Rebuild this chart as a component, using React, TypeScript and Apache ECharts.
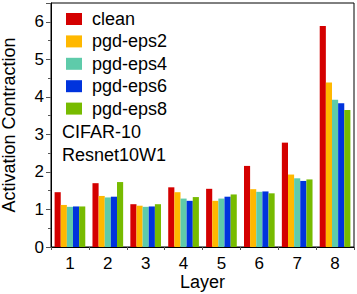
import React, { useEffect, useRef } from "react";
import * as echarts from "echarts";

const categories = ["1", "2", "3", "4", "5", "6", "7", "8"];
const seriesNames = ["clean", "pgd-eps2", "pgd-eps4", "pgd-eps6", "pgd-eps8"];
const clean = [1.46, 1.70, 1.14, 1.59, 1.55, 2.16, 2.78, 5.89];
const eps2 = [1.12, 1.36, 1.10, 1.46, 1.23, 1.54, 1.93, 4.38];
const eps4 = [1.07, 1.32, 1.07, 1.29, 1.29, 1.47, 1.83, 3.92];
const eps6 = [1.08, 1.34, 1.08, 1.23, 1.34, 1.48, 1.76, 3.83];
const eps8 = [1.08, 1.73, 1.14, 1.33, 1.40, 1.43, 1.80, 3.65];
const colors = ["#D40000", "#FFB800", "#5ECBAA", "#0033DD", "#77BB00"];
const annotations = ["CIFAR-10", "Resnet10W1"];

const FONT = "'Liberation Sans', Arial, sans-serif";

export default function App() {
  const ref = useRef<HTMLDivElement>(null);
  useEffect(() => {
    document.body.style.margin = "0";
    const chart = echarts.init(ref.current!, null, { renderer: "svg" });
    const values = [clean, eps2, eps4, eps6, eps8];
    chart.setOption({
      animation: false,
      textStyle: { fontFamily: FONT },
      grid: {
        left: 51,
        right: 3,
        top: 3,
        bottom: 47,
        show: true,
        borderColor: "#000",
        borderWidth: 1,
        containLabel: false,
        outerBoundsMode: "none",
      },
      legend: {
        orient: "vertical",
        left: 61,
        top: 5,
        itemWidth: 16,
        itemHeight: 12,
        itemGap: 4.4,
        icon: "rect",
        data: seriesNames,
        textStyle: {
          fontFamily: FONT,
          fontSize: 18,
          color: "#000",
          lineHeight: 18,
          padding: [0, 0, 0, 5],
        },
      },
      graphic: annotations.map((t, i) => ({
        type: "text",
        x: 62,
        y: 132 + i * 23,
        style: {
          text: t,
          font: `18px ${FONT}`,
          fill: "#000",
          verticalAlign: "middle",
        },
      })),
      xAxis: [
        {
          type: "category",
          data: categories,
          name: "Layer",
          nameLocation: "middle",
          nameGap: 26,
          nameMoveOverlap: false,
          nameTextStyle: { fontSize: 18, lineHeight: 18, color: "#000", fontFamily: FONT },
          axisLine: { lineStyle: { color: "#000", width: 1 } },
          axisTick: {
            alignWithLabel: true,
            length: 5,
            lineStyle: { color: "#555" },
          },
          axisLabel: { fontSize: 17, color: "#000", margin: 8, fontFamily: FONT },
        },
        {
          type: "category",
          data: categories,
          position: "bottom",
          axisLine: { show: false },
          axisLabel: { show: false },
          axisTick: { show: true, length: 3, interval: 0, lineStyle: { color: "#555" } },
        },
      ],
      yAxis: {
        type: "value",
        min: 0,
        max: 6.5,
        interval: 1,
        name: "Activation Contraction",
        nameLocation: "middle",
        nameGap: 33,
        nameMoveOverlap: false,
        nameTextStyle: { fontSize: 18, color: "#000", fontFamily: FONT },
        axisLine: { show: true, lineStyle: { color: "#000", width: 1 } },
        axisTick: { show: true, length: 5, lineStyle: { color: "#555" } },
        minorTick: { show: true, splitNumber: 2, length: 3, lineStyle: { color: "#555" } },
        splitLine: { show: false },
        axisLabel: {
          fontSize: 17,
          color: "#000",
          margin: 7,
          fontFamily: FONT,
          showMaxLabel: false,
        },
      },
      series: seriesNames.map((name, i) => ({
        name,
        type: "bar",
        xAxisIndex: 0,
        data: values[i],
        barGap: "0%",
        barCategoryGap: "19%",
        itemStyle: { color: colors[i] },
      })),
    });
    return () => chart.dispose();
  }, []);
  return (
    <div
      ref={ref}
      style={{ width: 357, height: 294, position: "absolute", left: 0, top: 0 }}
    />
  );
}
